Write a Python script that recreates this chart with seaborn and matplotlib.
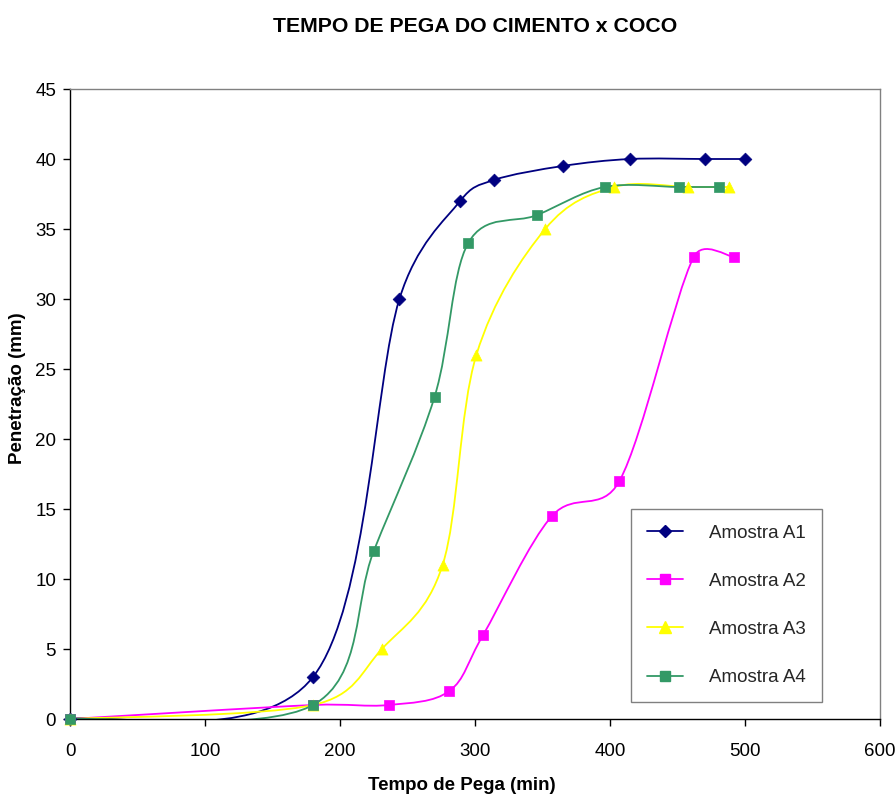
import numpy as np
import pandas as pd
import matplotlib
matplotlib.use("Agg")
import matplotlib.pyplot as plt
from matplotlib.path import Path
from matplotlib.patches import PathPatch
from matplotlib.lines import Line2D
import seaborn as sns

# ---- data ----
a1_x = [0, 180, 244, 289, 314, 365, 415, 470, 500]
a1_y = [0, 3, 30, 37, 38.5, 39.5, 40, 40, 40]

a2_x = [0, 180, 236, 281, 306, 357, 407, 462, 492]
a2_y = [0, 1, 1, 2, 6, 14.5, 17, 33, 33]

a3_x = [0, 180, 231, 276, 301, 352, 403, 458, 488]
a3_y = [0, 1, 5, 11, 26, 35, 38, 38, 38]

a4_x = [0, 180, 225, 270, 295, 346, 396, 451, 481]
a4_y = [0, 1, 12, 23, 34, 36, 38, 38, 38]

series_names = ["Amostra A1", "Amostra A2", "Amostra A3", "Amostra A4"]
series_colors = ["#000080", "#FF00FF", "#FFFF00", "#339966"]
series_markers = ["D", "s", "^", "s"]
series_msize = [6.5, 7.5, 8, 7.5]

title = "TEMPO DE PEGA DO CIMENTO x COCO"
xlabel = "Tempo de Pega (min)"
ylabel = "Penetração (mm)"
xticks = [0, 100, 200, 300, 400, 500, 600]
yticks = [0, 5, 10, 15, 20, 25, 30, 35, 40, 45]

sns.set_theme(style="white")
plt.rcParams["font.family"] = ["Liberation Sans", "DejaVu Sans"]

fig = plt.figure(figsize=(8.96, 7.96), dpi=100)
ax = fig.add_axes([70 / 896, 77 / 796, 810 / 896, 630 / 796])
ax.set_xlim(0, 600)
ax.set_ylim(0, 45)
ax.set_xticks(xticks)
ax.set_yticks(yticks)
ax.tick_params(axis="both", which="both", direction="out", length=5, width=1,
               color="black", labelsize=13.5, labelcolor="black",
               left=True, bottom=True)
ax.tick_params(axis="x", pad=12)
ax.tick_params(axis="y", pad=5)
for s in ["left", "bottom"]:
    ax.spines[s].set_color("black")
    ax.spines[s].set_linewidth(1.0)
for s in ["top", "right"]:
    ax.spines[s].set_color("#808080")
    ax.spines[s].set_linewidth(1.0)


def smooth_path(xs, ys):
    """Excel-style smoothed Bezier through the points, built in display space."""
    pts = ax.transData.transform(np.column_stack([xs, ys]))
    n = len(pts)
    verts = [pts[0]]
    codes = [Path.MOVETO]
    for i in range(n - 1):
        p0 = pts[i - 1] if i > 0 else pts[i]
        p1 = pts[i]
        p2 = pts[i + 1]
        p3 = pts[i + 2] if i + 2 < n else pts[i + 1]
        d12 = np.linalg.norm(p2 - p1)
        d02 = np.linalg.norm(p2 - p0)
        d13 = np.linalg.norm(p3 - p1)
        f1 = 1 / 6
        if d02 / 6 > d12 / 2 and d02 > 0:
            f1 = d12 / (2 * d02)
        f2 = 1 / 6
        if d13 / 6 > d12 / 2 and d13 > 0:
            f2 = d12 / (2 * d13)
        c1 = p1 + (p2 - p0) * f1
        c2 = p2 - (p3 - p1) * f2
        verts += [c1, c2, p2]
        codes += [Path.CURVE4] * 3
    inv = ax.transData.inverted()
    return Path(inv.transform(np.array(verts)), codes)


all_x = [a1_x, a2_x, a3_x, a4_x]
all_y = [a1_y, a2_y, a3_y, a4_y]

handles = []
for xs, ys, name, col, mk, ms in zip(all_x, all_y, series_names, series_colors,
                                     series_markers, series_msize):
    path = smooth_path(xs, ys)
    ax.add_patch(PathPatch(path, facecolor="none", edgecolor=col, lw=1.3,
                           transform=ax.transData, zorder=2))
    df = pd.DataFrame({"x": xs, "y": ys})
    sns.scatterplot(data=df, x="x", y="y", ax=ax, marker=mk, color=col,
                    s=ms ** 2, edgecolor=col, linewidth=0.5, zorder=3,
                    clip_on=False, legend=False)
    handles.append(Line2D([0], [0], color=col, lw=1.3, marker=mk,
                          markersize=ms, markeredgecolor=col, label=name))

leg = ax.legend(handles=handles, loc="lower left",
                bbox_to_anchor=((631 - 70) / 810, (719 - 702) / 630),
                frameon=True, fancybox=False, fontsize=13.5, labelspacing=1.65,
                handlelength=1.9, handletextpad=1.4, borderpad=0.85,
                numpoints=1, borderaxespad=0)
leg.get_frame().set_edgecolor("#606060")
leg.get_frame().set_linewidth(1.0)

fig.text(475 / 896, 1 - 27 / 796, title, ha="center", va="center",
         fontsize=15.3, fontweight="bold", color="black")
ax.set_xlabel(xlabel, fontsize=13.5, fontweight="bold", color="black")
ax.xaxis.set_label_coords((462 - 70) / 810, (719 - 786) / 630)
ax.xaxis.label.set_va("center")
ax.set_ylabel(ylabel, fontsize=13.5, fontweight="bold", color="black")
ax.yaxis.set_label_coords((18 - 70) / 810, (719 - 388) / 630)
ax.yaxis.label.set_va("center")

fig.savefig("out.png", dpi=100)
